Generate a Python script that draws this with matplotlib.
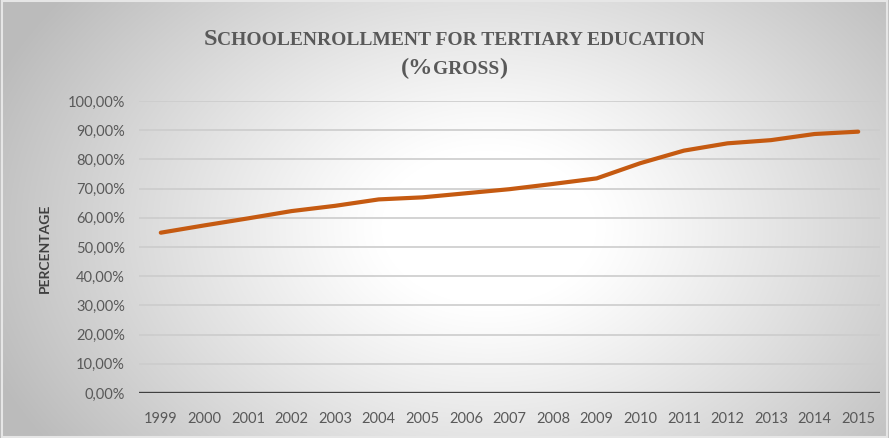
import numpy as np
import matplotlib
matplotlib.use("Agg")
import matplotlib.pyplot as plt
from matplotlib.patches import Rectangle

# gross tertiary enrollment, percent
years = [1999, 2000, 2001, 2002, 2003, 2004, 2005, 2006, 2007,
         2008, 2009, 2010, 2011, 2012, 2013, 2014, 2015]
enrollment = [54.9, 57.4, 59.8, 62.3, 64.1, 66.3, 67.0, 68.4, 69.8,
              71.6, 73.5, 78.7, 83.0, 85.5, 86.6, 88.7, 89.5]
y_ticks = [0, 10, 20, 30, 40, 50, 60, 70, 80, 90, 100]
y_ticklabels = ["0,00%", "10,00%", "20,00%", "30,00%", "40,00%", "50,00%",
                "60,00%", "70,00%", "80,00%", "90,00%", "100,00%"]

W, H = 889, 438
fig = plt.figure(figsize=(W / 100, H / 100), dpi=100)

# radial grey-to-white backdrop
bg = fig.add_axes([0, 0, 1, 1], zorder=-10)
gx, gy = np.meshgrid(np.linspace(0, 1, W), np.linspace(0, 1, H))
r = np.sqrt(((gx - 0.55) / 0.55) ** 2 + ((gy - 0.52) / 0.80) ** 2)
shade = 1.0 - 0.24 * np.clip((r - 0.22) / 0.8, 0, 1.1) ** 1.1
bg.imshow(np.dstack([shade] * 3), aspect="auto", extent=[0, 1, 0, 1],
          vmin=0, vmax=1)
bg.add_patch(Rectangle((0.002, 0.003), 0.996, 0.994, fill=False,
                       ec="#e6e6e6", lw=1.5, transform=bg.transAxes))
bg.set_xlim(0, 1)
bg.set_ylim(0, 1)
bg.axis("off")

ax = fig.add_axes([139 / W, 1 - 393 / H, 741 / W, 292 / H])
ax.set_facecolor("none")
ax.plot(years, enrollment, color="#C55A11", lw=3.0, solid_capstyle="round",
        solid_joinstyle="round", zorder=3)

ax.set_xlim(1998.5, 2015.5)
ax.set_ylim(0, 100)
ax.set_yticks(y_ticks)
ax.set_yticklabels(y_ticklabels)
ax.set_xticks(years)
ax.set_xticklabels([str(y) for y in years])
for t in y_ticks[1:]:
    ax.axhline(t, color="#cccccc", lw=1.2, zorder=1)
ax.axhline(0, color="#404040", lw=2.4, zorder=2)
for s in ax.spines.values():
    s.set_visible(False)
ax.tick_params(length=0, colors="#595959", labelsize=10.5)
ax.tick_params(axis="y", pad=10)
ax.tick_params(axis="x", pad=14)
for lbl in ax.get_xticklabels() + ax.get_yticklabels():
    lbl.set_family("Lato")

fig.text(45 / W, 1 - 248 / H, "PERCENTAGE", rotation=90, ha="center",
         va="center", fontsize=10, fontweight="bold", color="#404040",
         family="Lato")


def caps_line(parts, y_px):
    """Draw a centered line made of pieces at different sizes."""
    renderer = fig.canvas.get_renderer()
    texts = []
    for txt, size in parts:
        t = fig.text(0, 1 - y_px / H, txt, fontsize=size, fontweight="bold",
                     family="Liberation Serif", color="#595959",
                     va="baseline", ha="left")
        texts.append(t)
    widths = [t.get_window_extent(renderer).width for t in texts]
    x = (454 - sum(widths) / 2)
    for t, w in zip(texts, widths):
        t.set_x(x / W)
        x += w


caps_line([("S", 17.5), ("CHOOLENROLLMENT FOR TERTIARY EDUCATION", 14)], 45)
caps_line([("(%", 17.5), ("GROSS", 14), (")", 17.5)], 74)

fig.savefig("out.png", dpi=100)
